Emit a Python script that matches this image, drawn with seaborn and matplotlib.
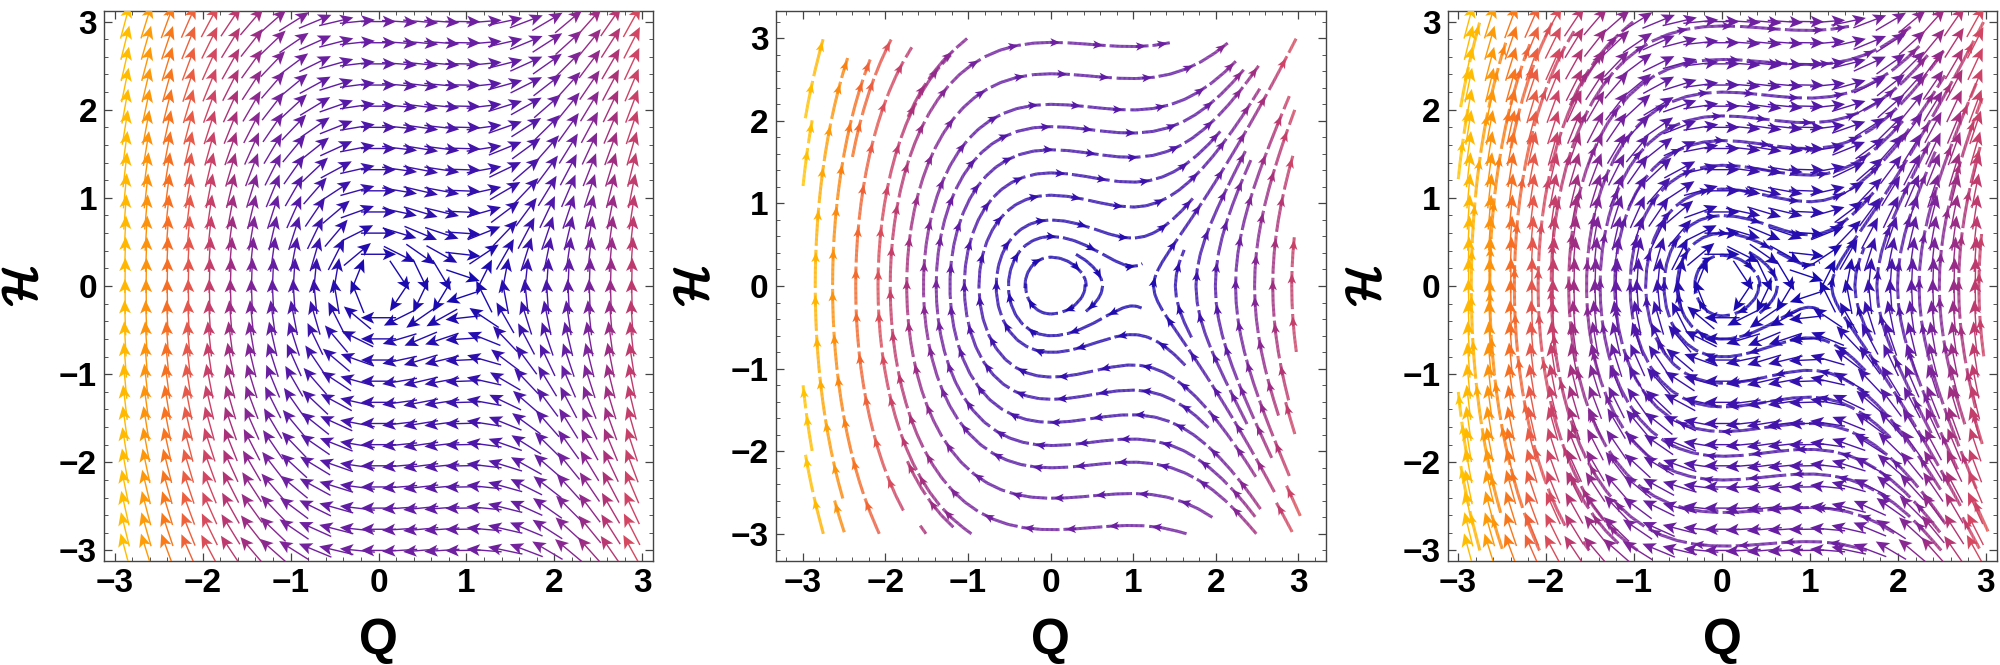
import numpy as np
import matplotlib
matplotlib.use("Agg")
import matplotlib.pyplot as plt
import matplotlib.patheffects as pe
from matplotlib.colors import Normalize
from matplotlib.ticker import MultipleLocator
import seaborn as sns

sns.set_theme(style="ticks")
plt.rcParams["font.family"] = ["Liberation Sans", "DejaVu Sans"]
plt.rcParams["mathtext.fontset"] = "cm"

# Field read from the arrows: Q' by row (H), H' by column (Q)
q_nodes = [-3.12, -2.88, -2.64, -2.40, -2.16, -1.92, -1.68, -1.44, -1.20, -0.96, -0.72, -0.48, -0.24,
           0.00, 0.24, 0.48, 0.72, 0.96, 1.20, 1.44, 1.68, 1.92, 2.16, 2.40, 2.64, 2.88, 3.12]
hdot_by_q = [12.85, 11.17, 9.61, 8.16, 6.83, 5.61, 4.50, 3.51, 2.64, 1.88, 1.24, 0.71, 0.30,
             0.00, -0.18, -0.25, -0.20, -0.04, 0.24, 0.63, 1.14, 1.77, 2.51, 3.36, 4.33, 5.41, 6.61]
h_nodes = [-3.00, -2.76, -2.52, -2.28, -2.04, -1.80, -1.56, -1.32, -1.08, -0.84, -0.60, -0.36, -0.12,
           0.12, 0.36, 0.60, 0.84, 1.08, 1.32, 1.56, 1.80, 2.04, 2.28, 2.52, 2.76, 3.00]
qdot_by_h = [-3.00, -2.76, -2.52, -2.28, -2.04, -1.80, -1.56, -1.32, -1.08, -0.84, -0.60, -0.36, -0.12,
             0.12, 0.36, 0.60, 0.84, 1.08, 1.32, 1.56, 1.80, 2.04, 2.28, 2.52, 2.76, 3.00]

# Streamlines: a point on the line, where it begins and where it ends
seed_q = [0, 0, 0, 0, 0, 0, 0, 0, 0, 0, 0, 0.63,
          1.246, 1.51, 1.76, 1.995, 2.24, 2.47, 2.69, 2.92, 2.83, 2.94, 2.90,
          -2.85, -2.64, -2.36, -2.09, -2.85, -2.95, -2.85, -2.95, -2.56, -2.20, -1.30, -1.45, -1.58]
seed_h = [2.95, 2.57, 2.20, 1.93, 1.65, 1.37, 1.10, 0.80, 0.60, 0.35, -0.34, 0,
          0, 0, 0, 0, 0, 0, 0, 0, -2.80, -2.60, -1.60,
          0, 0, 0, 0, 2.62, 1.61, -2.62, -1.60, -2.79, 2.34, 2.73, -2.62, -2.90]
begin_q = [1.70, 2.05, 2.45, 2.44, 2.58, 2.00, 2.50, 1.71, 1.15, -0.32, 0.41, 0.31,
           2.73, 1.68, 2.35, 2.66, 2.90, 2.78, 2.86, 2.98, 2.93, 3.00, 2.95,
           -2.51, -2.07, -1.75, -0.91, -2.96, -3.00, -2.74, -2.89, -2.50, -2.39, -1.76, -1.26, -1.53]
begin_h = [-2.99, -2.84, -2.94, -2.70, -2.72, -1.77, -2.31, -1.00, -0.17, 0.00, 0.00, 0.40,
           -2.51, -0.57, -1.58, -2.00, -2.32, -1.58, -1.34, -0.80, -2.98, -2.72, -1.80,
           -2.59, -2.98, -2.78, -2.96, 2.10, 1.19, -2.98, -1.98, -2.98, 1.51, 2.00, -2.89, -2.98]
end_q = [1.55, 2.09, 2.31, 2.41, 2.58, 2.01, 2.53, 1.69, 1.17, 0.41, -0.32, 0.39,
         2.95, 1.61, 2.33, 2.44, 2.89, 2.94, 2.92, 2.94, 2.73, 2.88, 2.84,
         -2.46, -2.20, -1.73, -1.25, -2.76, -2.90, -2.96, -3.00, -2.62, -1.96, -0.85, -1.63, -1.63]
end_h = [2.95, 2.88, 2.77, 2.68, 2.73, 1.81, 2.37, 1.02, 0.22, 0.00, 0.00, -0.35,
         2.95, 0.44, 1.66, 1.55, 2.31, 2.09, 1.59, 0.54, -2.64, -2.46, -1.42,
         2.78, 2.78, 2.86, 2.93, 2.97, 1.99, -2.09, -1.18, -2.57, 2.97, 2.98, -2.15, -2.84]

tick_values = [-3, -2, -1, 0, 1, 2, 3]
x_label = "Q"
y_label = r"$\mathcal{H}$"
color_stops = ["#1408b0", "#3210ae", "#5218a8", "#6e20a0", "#8c2890", "#b03375", "#d04565",
               "#e85a48", "#f56b28", "#fa8010", "#fd9a08", "#ffb400", "#ffc400", "#ffcc00"]

cmap = sns.blend_palette(color_stops, 256, as_cmap=True)
norm = Normalize(0, 13)

Q = np.array(q_nodes)
H = np.array(h_nodes)
U = np.tile(np.array(qdot_by_h)[:, None], (1, Q.size))
V = np.tile(np.array(hdot_by_q)[None, :], (H.size, 1))
MAG = np.hypot(U, V)

ARROW_LEN = 0.40
STROKE, GAP = 0.47, 0.045
LW = 2.15


def draw_arrows(ax):
    keep_q = np.abs(Q) < 3
    qq, hh = np.meshgrid(Q[keep_q], H)
    u, v, m = U[:, keep_q], V[:, keep_q], MAG[:, keep_q]
    show = m > 0.125
    ax.quiver(qq[show], hh[show], (u / m)[show] * ARROW_LEN, (v / m)[show] * ARROW_LEN, m[show],
              cmap=cmap, norm=norm, angles="xy", scale_units="xy", scale=1, pivot="mid",
              units="dots", width=1.4, headwidth=8.5, headlength=9.5, headaxislength=7.5, zorder=3)


def draw_streams(ax):
    tips, dirs, cols = [], [], []
    for i in range(len(seed_q)):
        before = list(ax.patches)
        closed = abs(seed_q[i]) < 0.7 and abs(seed_h[i]) < 0.5
        st = ax.streamplot(Q, H, U, V, start_points=[[seed_q[i], seed_h[i]]], color=MAG, cmap=cmap,
                           norm=norm, linewidth=LW, arrowstyle="-", broken_streamlines=False,
                           integration_direction="both", minlength=0.0,
                           maxlength=0.45 if closed else 6.0, zorder=2)
        for p in list(ax.patches):
            if p not in before:
                p.remove()
        segs = st.lines.get_segments()
        vals = np.asarray(st.lines.get_array())
        pts = np.vstack([np.array([s[0] for s in segs]), segs[-1][1]])
        k0 = np.argmin(np.hypot(*(pts - [seed_q[i], seed_h[i]]).T))
        a = np.argmin(np.hypot(*(pts[:k0 + 1] - [begin_q[i], begin_h[i]]).T))
        b = k0 + np.argmin(np.hypot(*(pts[k0:] - [end_q[i], end_h[i]]).T))
        pts = pts[a:b + 1]
        col = np.append(vals, vals[-1])[a:b + 1]
        ds = np.hypot(*np.diff(pts, axis=0).T)
        s = np.r_[0, np.cumsum(ds)]
        fine = np.arange(0, s[-1], 0.01)
        if fine.size < 3:
            st.lines.set_segments([])
            continue
        px, py, pc = np.interp(fine, s, pts[:, 0]), np.interp(fine, s, pts[:, 1]), np.interp(fine, s, col)
        out, arr = [], []
        s0 = 0.0
        while s0 < fine[-1]:
            s1 = min(s0 + STROKE, fine[-1])
            idx = np.where((fine >= s0) & (fine <= s1))[0]
            if idx.size >= 2:
                out.extend(np.stack([np.c_[px[idx[:-1]], py[idx[:-1]]], np.c_[px[idx[1:]], py[idx[1:]]]], axis=1))
                arr.extend(pc[idx[:-1]])
                if s1 - s0 > 0.2:
                    t = idx[-1] - 3
                    tips.append((px[t], py[t]))
                    d = np.array([px[t] - px[t - 3], py[t] - py[t - 3]])
                    dirs.append(d / np.hypot(*d))
                    cols.append(pc[t])
            s0 = s1 + GAP
        st.lines.set_segments(out)
        st.lines.set_array(np.array(arr))
    tips, dirs, cols = np.array(tips), np.array(dirs), np.array(cols)
    ax.quiver(tips[:, 0], tips[:, 1], dirs[:, 0] * 0.12, dirs[:, 1] * 0.12, cols, cmap=cmap, norm=norm,
              angles="xy", scale_units="xy", scale=1, pivot="tip", units="dots", width=2.4,
              headwidth=3.6, headlength=4.2, headaxislength=3.4, zorder=3)


def style(ax, lim):
    ax.set_xlim(-lim, lim)
    ax.set_ylim(-lim, lim)
    ax.set_xticks(tick_values)
    ax.set_yticks(tick_values)
    ax.xaxis.set_minor_locator(MultipleLocator(0.2))
    ax.yaxis.set_minor_locator(MultipleLocator(0.2))
    ax.tick_params(which="major", direction="in", length=5.5, width=0.9, color="#444444", top=True,
                   right=True, labelsize=24, pad=5)
    ax.tick_params(which="minor", direction="in", length=3, width=0.7, color="#555555", top=True, right=True)
    for lab in ax.get_xticklabels() + ax.get_yticklabels():
        lab.set_fontweight("bold")
        lab.set_color("black")
    for sp in ax.spines.values():
        sp.set_color("#444444")
        sp.set_linewidth(1.0)
    ax.set_xlabel(x_label, fontsize=36, fontweight="bold", color="black")
    ax.xaxis.set_label_coords(0.5, -0.103)
    ax.set_ylabel(y_label, fontsize=34, color="black", rotation=90,
                  path_effects=[pe.withStroke(linewidth=1.6, foreground="black")])
    ax.yaxis.set_label_coords(-0.107, 0.5)


W, HT = 2000, 665
fig = plt.figure(figsize=(20, 6.65), dpi=100, facecolor="white")
boxes = [(104, 549), (775.6, 550), (1447.5, 549)]
axes = [fig.add_axes([l / W, 1 - 561 / HT, w / W, 550 / HT]) for l, w in boxes]

draw_arrows(axes[0])
style(axes[0], 3.12)
draw_streams(axes[1])
style(axes[1], 3.33)
draw_streams(axes[2])
draw_arrows(axes[2])
style(axes[2], 3.12)

fig.savefig("out.png", dpi=100, facecolor="white")
